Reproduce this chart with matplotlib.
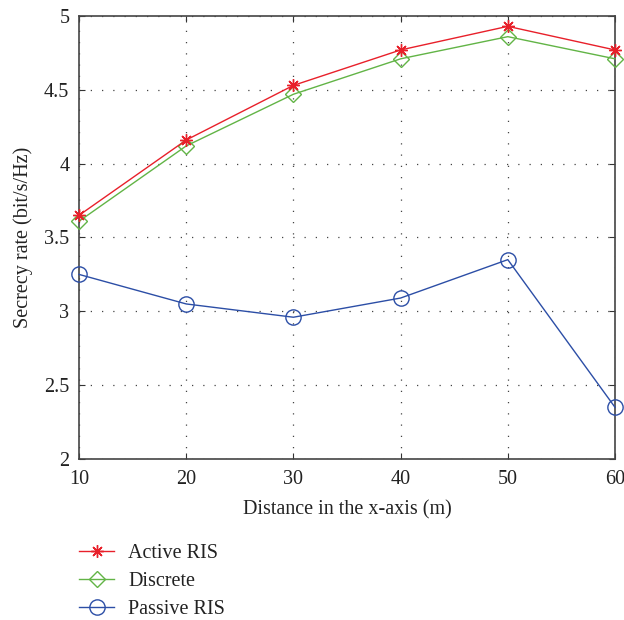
import numpy as np
import matplotlib
matplotlib.use('Agg')
import matplotlib.pyplot as plt

########################################################
# values
distance = [10, 20, 30, 40, 50, 60]
active_ris = [3.65, 4.16, 4.53, 4.77, 4.93, 4.77]
discrete = [3.61, 4.12, 4.47, 4.71, 4.86, 4.71]
passive_ris = [3.25, 3.05, 2.96, 3.09, 3.35, 2.35]
labels = ['Active RIS', 'Discrete', 'Passive RIS']
########################################################

fs = 14.5
plt.rcParams['font.family'] = ['Liberation Serif', 'DejaVu Serif']
plt.rcParams['font.size'] = fs

fig = plt.figure(figsize=(6.24, 6.2), dpi=100)
ax = fig.add_axes([0.1266, 0.2597, 0.8590, 0.7145])

ax.plot(distance, active_ris, color='#e8202a', lw=1.0, marker=(8, 2, 0),
        ms=9, mew=1.0, label=labels[0], clip_on=False, zorder=4)
ax.plot(distance, discrete, color='#62b446', lw=1.0, marker='D', ms=8,
        mfc='none', mew=1.0, label=labels[1], clip_on=False, zorder=3)
ax.plot(distance, passive_ris, color='#2c4ea6', lw=1.0, marker='o', ms=11,
        mfc='none', mew=1.0, label=labels[2], clip_on=False, zorder=3)

ax.set_xlim(10, 60)
ax.set_ylim(2, 5)
ax.set_xticks(distance)
ax.set_yticks([2, 2.5, 3, 3.5, 4, 4.5, 5])
ax.set_yticklabels(['2', '2.5', '3', '3.5', '4', '4.5', '5'])
ax.grid(True, linestyle=(0, (1, 8)), color='#444444', lw=0.9)
ax.tick_params(direction='in', top=True, right=True, length=4, colors='#333333',
               labelcolor='#222222', labelsize=fs)
ax.tick_params(axis='x', pad=8)
ax.tick_params(axis='y', pad=7)
for s in ax.spines.values():
    s.set_color('#444444')
    s.set_linewidth(1.2)

ax.set_xlabel('Distance in the x-axis (m)', color='#222222', labelpad=8)
ax.set_ylabel('Secrecy rate (bit/s/Hz)', color='#222222', labelpad=8)

fig.legend(loc='upper left', bbox_to_anchor=(0.1266, 0.1225), frameon=False,
           handlelength=1.75, labelspacing=0.43, handletextpad=0.7,
           borderaxespad=0, borderpad=0, fontsize=fs, labelcolor='#222222')

fig.savefig('out.png', dpi=100)
